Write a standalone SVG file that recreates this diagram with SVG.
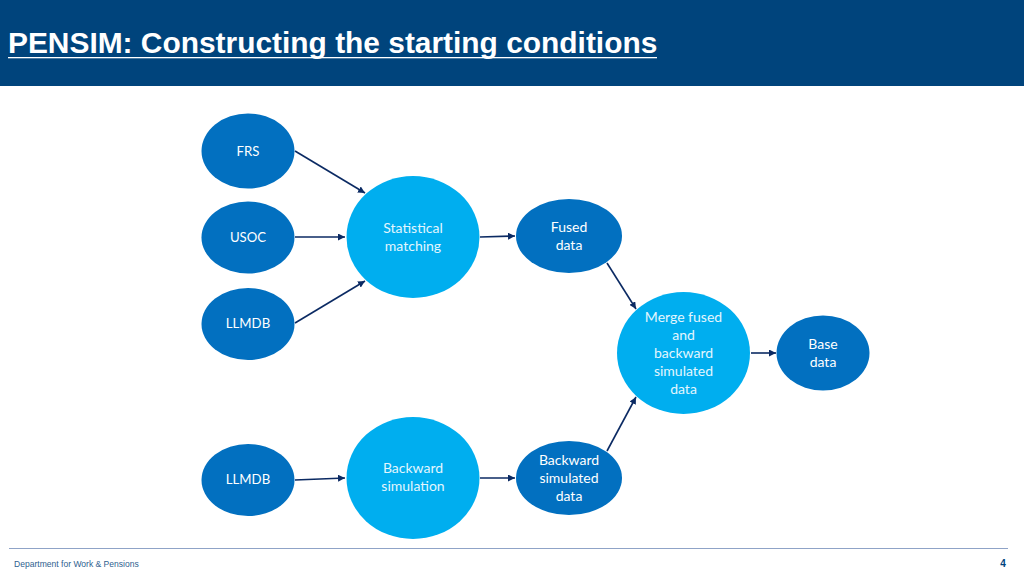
<svg xmlns="http://www.w3.org/2000/svg" width="1024" height="576" viewBox="0 0 1024 576">
<style>
.dark{fill:#0270C0}
.light{fill:#00AEEF}
.lbl{font-family:Lato,"Open Sans",sans-serif;font-size:14px;fill:#fff;text-anchor:middle}
.caps{font-size:13.200px}
.lightlbl{fill:#E3F6FE}
.conn{stroke:#0B2A63;stroke-width:1.600;fill:none;marker-end:url(#arrow)}
</style>
<defs>
<marker id="arrow" markerUnits="userSpaceOnUse" markerWidth="8" markerHeight="7" refX="7" refY="3.500" orient="auto">
<path d="M0 0L7 3.500L0 7Z" fill="#0B2A63"/>
</marker>
</defs>
<rect width="1024" height="86" fill="#00447C"/>
<text x="8" y="53" font-family="'Liberation Sans',Arial,sans-serif" font-weight="700" font-size="29.900" fill="#fff">PENSIM: Constructing the starting conditions</text>
<rect x="8" y="57" width="649" height="1.300" fill="#fff"/>
<g id="connectors">
<line class="conn" x1="295" y1="151" x2="365" y2="193"/>
<line class="conn" x1="295" y1="237" x2="345" y2="237"/>
<line class="conn" x1="295" y1="323" x2="365" y2="281"/>
<line class="conn" x1="480" y1="237" x2="515" y2="236"/>
<line class="conn" x1="607" y1="263" x2="636" y2="309"/>
<line class="conn" x1="607" y1="451" x2="636" y2="397"/>
<line class="conn" x1="751" y1="353" x2="776" y2="353"/>
<line class="conn" x1="295" y1="480" x2="345" y2="478"/>
<line class="conn" x1="480" y1="478" x2="515" y2="478"/>
</g>
<g id="frs"><ellipse class="dark" cx="248" cy="151" rx="46.500" ry="37.500"/><text class="lbl caps" x="248" y="156">FRS</text></g>
<g id="usoc"><ellipse class="dark" cx="248" cy="237.500" rx="46.500" ry="36"/><text class="lbl caps" x="248" y="242">USOC</text></g>
<g id="llmdb1"><ellipse class="dark" cx="248" cy="324" rx="46.500" ry="36"/><text class="lbl caps" x="248" y="328">LLMDB</text></g>
<g id="llmdb2"><ellipse class="dark" cx="248" cy="480" rx="46.500" ry="36"/><text class="lbl caps" x="248" y="484">LLMDB</text></g>
<g id="matching"><ellipse class="light" cx="413" cy="237" rx="66.500" ry="61"/><text class="lbl lightlbl" x="413" y="233">Statistical</text><text class="lbl lightlbl" x="413" y="251">matching</text></g>
<g id="backward"><ellipse class="light" cx="413" cy="478" rx="66.500" ry="61"/><text class="lbl lightlbl" x="413" y="473">Backward</text><text class="lbl lightlbl" x="413" y="491">simulation</text></g>
<g id="fused"><ellipse class="dark" cx="569" cy="236" rx="53" ry="37"/><text class="lbl" x="569" y="232">Fused</text><text class="lbl" x="569" y="250">data</text></g>
<g id="backdata"><ellipse class="dark" cx="569" cy="478" rx="53" ry="37"/><text class="lbl" x="569" y="464.500">Backward</text><text class="lbl" x="569" y="482.500">simulated</text><text class="lbl" x="569" y="500.500">data</text></g>
<g id="merge"><ellipse class="light" cx="683.500" cy="353" rx="66.500" ry="61"/><text class="lbl lightlbl" x="683.500" y="322">Merge fused</text><text class="lbl lightlbl" x="683.500" y="340">and</text><text class="lbl lightlbl" x="683.500" y="358">backward</text><text class="lbl lightlbl" x="683.500" y="376">simulated</text><text class="lbl lightlbl" x="683.500" y="394">data</text></g>
<g id="base"><ellipse class="dark" cx="823" cy="353" rx="46.500" ry="37.500"/><text class="lbl" x="823" y="349">Base</text><text class="lbl" x="823" y="367">data</text></g>
<rect x="9" y="548" width="999" height="1" fill="#8FA3C7"/>
<text x="14" y="567" font-family="'Liberation Sans',Arial,sans-serif" font-size="8.550" fill="#2F5F8F">Department for Work &amp; Pensions</text>
<text x="1003" y="567" font-family="'Liberation Sans',Arial,sans-serif" font-weight="700" font-size="10" fill="#00447C" text-anchor="middle">4</text>
</svg>
